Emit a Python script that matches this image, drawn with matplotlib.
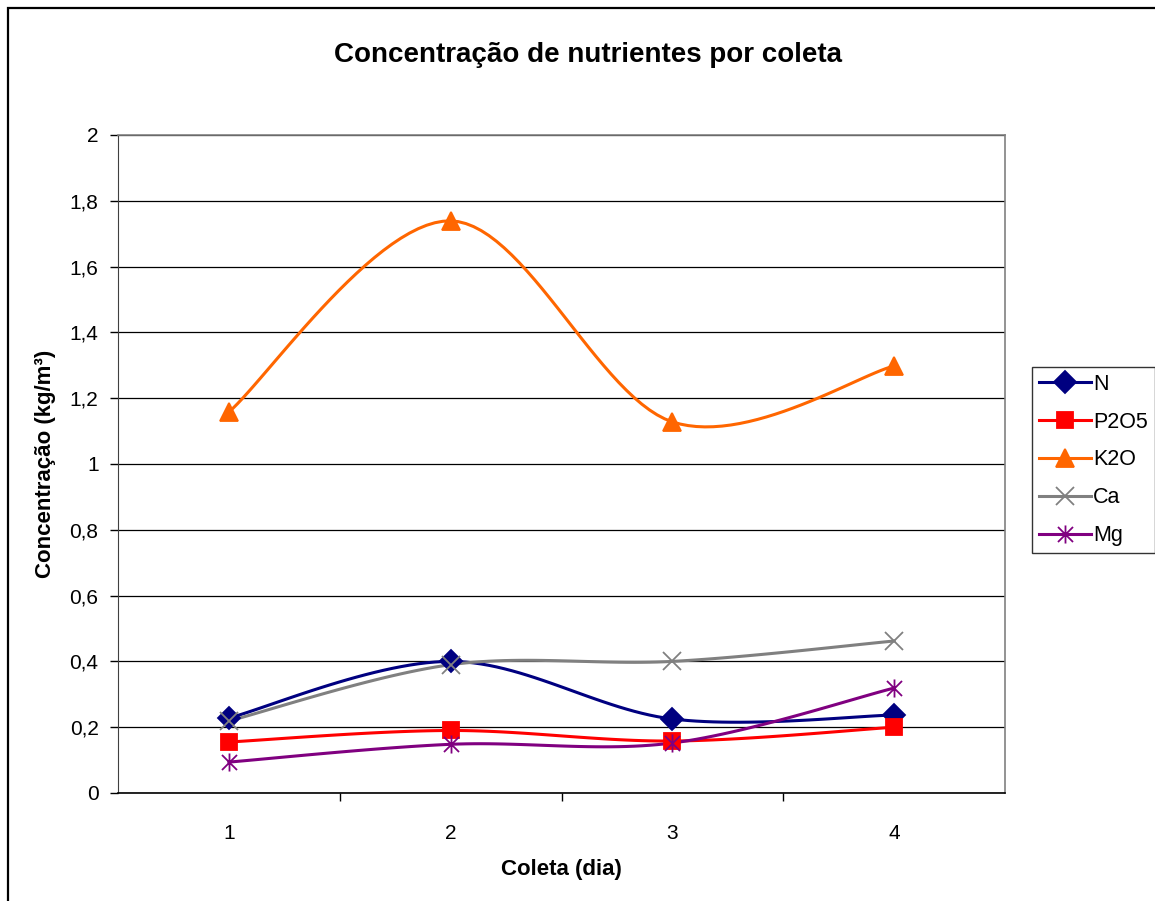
import numpy as np
import matplotlib.pyplot as plt
from matplotlib.path import Path
from matplotlib.patches import Rectangle

plt.rcParams['font.family'] = ['Liberation Sans', 'DejaVu Sans']

coletas = [1, 2, 3, 4]
n_vals = [0.228, 0.400, 0.225, 0.237]
p2o5_vals = [0.155, 0.190, 0.158, 0.200]
k2o_vals = [1.158, 1.739, 1.128, 1.298]
ca_vals = [0.219, 0.390, 0.400, 0.462]
mg_vals = [0.094, 0.148, 0.152, 0.319]
y_ticks = [0, 0.2, 0.4, 0.6, 0.8, 1, 1.2, 1.4, 1.6, 1.8, 2]


def smooth(xs, ys, steps=30):
    # Excel-like smoothed line (Catmull-Rom as bezier)
    px = np.array(xs, dtype=float)
    py = np.array(ys, dtype=float)
    n = len(px)
    outx, outy = [], []
    for i in range(n - 1):
        p0 = max(i - 1, 0)
        p3 = min(i + 2, n - 1)
        c1x = px[i] + (px[i + 1] - px[p0]) / 6.0
        c1y = py[i] + (py[i + 1] - py[p0]) / 6.0
        c2x = px[i + 1] - (px[p3] - px[i]) / 6.0
        c2y = py[i + 1] - (py[p3] - py[i]) / 6.0
        t = np.linspace(0, 1, steps)
        bx = (1-t)**3*px[i] + 3*(1-t)**2*t*c1x + 3*(1-t)*t**2*c2x + t**3*px[i+1]
        by = (1-t)**3*py[i] + 3*(1-t)**2*t*c1y + 3*(1-t)*t**2*c2y + t**3*py[i+1]
        outx.extend(bx)
        outy.extend(by)
    return np.array(outx), np.array(outy)


star = Path([(-1, -1), (1, 1), (-1, 1), (1, -1), (0, -1.2), (0, 1.2)],
            [Path.MOVETO, Path.LINETO, Path.MOVETO, Path.LINETO, Path.MOVETO, Path.LINETO])

series = [
    ('N', n_vals, '#000080', 'D', 11),
    ('P2O5', p2o5_vals, '#FF0000', 's', 11),
    ('K2O', k2o_vals, '#FF6600', '^', 13),
    ('Ca', ca_vals, '#808080', 'x', 13),
    ('Mg', mg_vals, '#800080', star, 13),
]

W, H = 1155, 901
fig = plt.figure(figsize=(W / 100, H / 100), dpi=100)
ax = fig.add_axes([118 / W, 1 - 793 / H, (1005 - 118) / W, (793 - 135) / H])

# outer chart border
fig.patches.append(Rectangle((8 / W, -0.1), 1.2, 1 - 8 / H + 0.1, transform=fig.transFigure,
                             fill=False, edgecolor='black', linewidth=1.6))

handles = []
for name, vals, color, mk, ms in series:
    sx, sy = smooth(coletas, vals)
    ax.plot(sx, sy, color=color, linewidth=2.2, zorder=3)
    mfc = color if mk in ('D', 's', '^') else 'none'
    ax.plot(coletas, vals, linestyle='none', marker=mk, markersize=ms,
            markerfacecolor=mfc, markeredgecolor=color, markeredgewidth=1.3, zorder=4)
    h, = ax.plot([], [], color=color, linewidth=2.2, marker=mk, markersize=ms,
                 markerfacecolor=mfc, markeredgecolor=color, markeredgewidth=1.3, label=name)
    handles.append(h)

ax.set_xlim(0.5, 4.5)
ax.set_ylim(0, 2)
ax.set_yticks(y_ticks)
ax.set_yticklabels([('%g' % v).replace('.', ',') for v in y_ticks], fontsize=15)
ax.yaxis.grid(True, color='black', linewidth=0.9)
ax.set_axisbelow(True)

ax.set_xticks([1.5, 2.5, 3.5], minor=False)
ax.set_xticklabels([])
ax.set_xticks(coletas, minor=True)
ax.set_xticklabels([str(c) for c in coletas], minor=True, fontsize=15)
ax.tick_params(axis='x', which='minor', length=0, pad=22)
ax.tick_params(axis='x', which='major', length=6, width=1, color='black')
ax.tick_params(axis='y', length=6, width=1, pad=8)

for side in ['top', 'right']:
    ax.spines[side].set_color('#808080')
    ax.spines[side].set_linewidth(1.2)
ax.spines['left'].set_color('#404040')
ax.spines['bottom'].set_color('black')
ax.spines['bottom'].set_linewidth(1.2)

ax.set_xlabel('Coleta (dia)', fontsize=16, fontweight='bold', labelpad=12)
ax.set_ylabel('Concentração (kg/m³)', fontsize=16, fontweight='bold', labelpad=10)
fig.text(588 / W, 1 - 55 / H, 'Concentração de nutrientes por coleta', fontsize=20,
         fontweight='bold', ha='center', va='center')

leg = fig.legend(handles=handles, loc='upper left', bbox_to_anchor=(1032 / W, 1 - 367 / H),
                 fontsize=15.5, frameon=True, fancybox=False, edgecolor='black',
                 handlelength=2.4, handletextpad=0.12, labelspacing=0.78, borderpad=0.32,
                 borderaxespad=0)
leg.get_frame().set_linewidth(1.0)

fig.savefig('out.png', dpi=100)
